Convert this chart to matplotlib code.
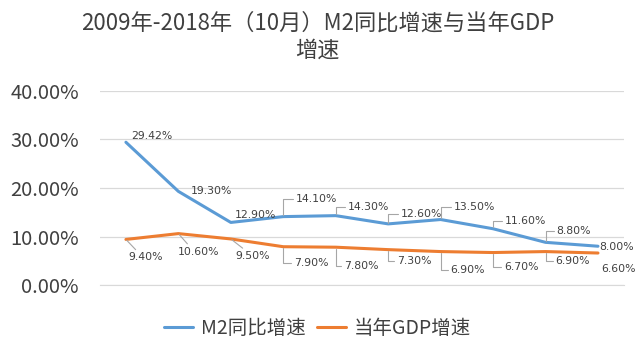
import matplotlib
matplotlib.use("Agg")
import matplotlib.pyplot as plt
from matplotlib.ticker import FuncFormatter, MultipleLocator

plt.rcParams['font.family'] = ['Noto Sans CJK SC', 'DejaVu Sans']

years = ["2009", "2010", "2011", "2012", "2013", "2014", "2015", "2016", "2017", "2018"]
m2 = [29.42, 19.30, 12.90, 14.10, 14.30, 12.60, 13.50, 11.60, 8.80, 8.00]
gdp = [9.40, 10.60, 9.50, 7.90, 7.80, 7.30, 6.90, 6.70, 6.90, 6.60]
m2_name = "M2同比增速"
gdp_name = "当年GDP增速"
title = "2009年-2018年（10月）M2同比增速与当年GDP\n增速"

# label offsets in pixels (dx to left edge of text, dy to text centre), leader style
m2_off = [(5, 6, None), (12, 0, None), (4, 7, None), (13, 18, 'angle'), (12, 9, 'angle'),
          (13, 10, 'angle'), (13, 13, 'angle'), (12, 8, 'angle'), (11, 11, 'angle'), (1, -1, None)]
gdp_off = [(2, -18, 'line'), (-1, -18, 'line'), (5, -17, 'line'), (11, -16, 'angle'), (8, -19, 'angle'),
           (9, -11, 'angle'), (10, -18, 'angle'), (11, -14, 'angle'), (10, -9, 'angle'), (3, -16, None)]

blue = "#5B9BD5"
orange = "#ED7D31"
grid = "#D9D9D9"
txt = "#404040"

fig = plt.figure(figsize=(6.35, 3.55), dpi=100)
ax = fig.add_axes([0.157, 0.197, 0.826, 0.547])
x = list(range(len(years)))
ax.plot(x, m2, color=blue, lw=2.2, label=m2_name, solid_capstyle='round', zorder=3)
ax.plot(x, gdp, color=orange, lw=2.2, label=gdp_name, solid_capstyle='round', zorder=3)

ax.set_xlim(-0.5, len(years) - 0.5)
ax.set_ylim(0, 40)
ax.yaxis.set_major_locator(MultipleLocator(10))
ax.yaxis.set_major_formatter(FuncFormatter(lambda v, p: f"{v:.2f}%"))
ax.set_xticks([])
ax.tick_params(axis='y', length=0, labelsize=14.5, labelcolor=txt, pad=15)
for s in ['top', 'right', 'left']:
    ax.spines[s].set_visible(False)
ax.spines['bottom'].set_color(grid)
ax.grid(axis='y', color=grid, lw=0.9)
ax.set_axisbelow(True)

def label(vals, offs):
    for i, (v, (dx, dy, style)) in enumerate(zip(vals, offs)):
        kw = {}
        if style == 'angle':
            kw['arrowprops'] = dict(arrowstyle='-', color='#A6A6A6', lw=0.8, shrinkA=0, shrinkB=1,
                                    relpos=(0, 0.5),
                                    connectionstyle='angle,angleA=0,angleB=90,rad=0')
        elif style == 'line':
            kw['arrowprops'] = dict(arrowstyle='-', color='#A6A6A6', lw=0.8, shrinkA=0, shrinkB=1,
                                    relpos=(0.3, 1.0))
        ax.annotate(f"{v:.2f}%", (i, v), xytext=(dx, dy), textcoords='offset pixels',
                    ha='left', va='center', fontsize=7.8, color=txt,
                    family=['DejaVu Sans'], **kw)

label(m2, m2_off)
label(gdp, gdp_off)

fig.text(0.5, 1 - 23 / 355, "2009年-2018年（10月）M2同比增速与当年GDP", ha='center', va='center',
         fontsize=16, color=txt)
fig.text(0.5, 1 - 50 / 355, "增速", ha='center', va='center', fontsize=16, color=txt)

fig.legend(loc='center', bbox_to_anchor=(0.5, 1 - 328 / 355), ncol=2, frameon=False,
           fontsize=14, handlelength=1.5, handletextpad=0.4, columnspacing=0.6,
           labelcolor=txt)

fig.savefig("out.png", dpi=100)
